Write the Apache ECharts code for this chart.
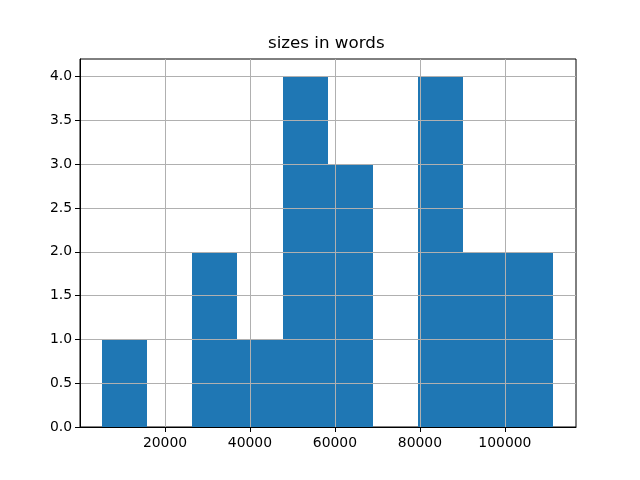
<!DOCTYPE html>
<html><head><meta charset="utf-8">
<script src="https://cdn.jsdelivr.net/npm/echarts@6/dist/echarts.min.js"></script>
<style>html,body{margin:0;padding:0;background:#fff}#c{width:640px;height:480px}</style>
</head><body><div id="c"></div>
<script>
const title = 'sizes in words';
const binEdges = [5190, 15814, 26438, 37062, 47686, 58310, 68934, 79558, 90182, 100806, 111430];
const counts = [1, 0, 2, 1, 4, 3, 0, 4, 2, 2];
const xTicks = [20000, 40000, 60000, 80000, 100000];
const yTicks = [0, 0.5, 1, 1.5, 2, 2.5, 3, 3.5, 4];

const data = counts.map((c, i) => [binEdges[i], binEdges[i + 1], c]);
const font = 'DejaVu Sans';
const chart = echarts.init(document.getElementById('c'), null, {renderer: 'canvas'});
chart.setOption({
  animation: false,
  backgroundColor: '#fff',
  grid: {left: 80, right: 64, top: 59, bottom: 53, show: true, borderColor: '#000', borderWidth: 1, backgroundColor: 'transparent'},
  graphic: [{type: 'text', left: 328 - 60, top: 35, style: {text: title, font: '16.7px "DejaVu Sans"', fill: '#000', width: 120, align: 'center'}, z: 10}],
  xAxis: {
    type: 'value', min: 0, max: 116740, z: 3,
    axisLine: {show: true, lineStyle: {color: '#000', width: 1}},
    axisTick: {show: true, length: 5, customValues: xTicks, lineStyle: {color: '#000', width: 1}},
    axisLabel: {customValues: xTicks, margin: 9, color: '#000', fontFamily: font, fontSize: 13.9, formatter: v => String(v)},
    splitLine: {show: true, lineStyle: {color: '#b0b0b0', width: 1}}
  },
  yAxis: {
    type: 'value', min: 0, max: 4.2, z: 3,
    axisLine: {show: true, lineStyle: {color: '#000', width: 1}},
    axisTick: {show: true, length: 5, customValues: yTicks, lineStyle: {color: '#000', width: 1}},
    axisLabel: {customValues: yTicks, margin: 8, color: '#000', fontFamily: font, fontSize: 13.9, formatter: v => v.toFixed(1)},
    splitLine: {show: true, lineStyle: {color: '#b0b0b0', width: 1}}
  },
  series: [{
    type: 'custom', z: 1,
    encode: {x: [0, 1], y: 2},
    data: data,
    renderItem: (params, api) => {
      const p0 = api.coord([api.value(0), api.value(2)]);
      const p1 = api.coord([api.value(1), 0]);
      const x0 = Math.round(p0[0]), x1 = Math.round(p1[0]);
      const y0 = Math.round(p0[1]), y1 = Math.round(p1[1]);
      return {type: 'rect', shape: {x: x0, y: y0, width: x1 - x0, height: y1 - y0}, style: {fill: '#1f77b4'}};
    }
  }]
});
</script></body></html>
